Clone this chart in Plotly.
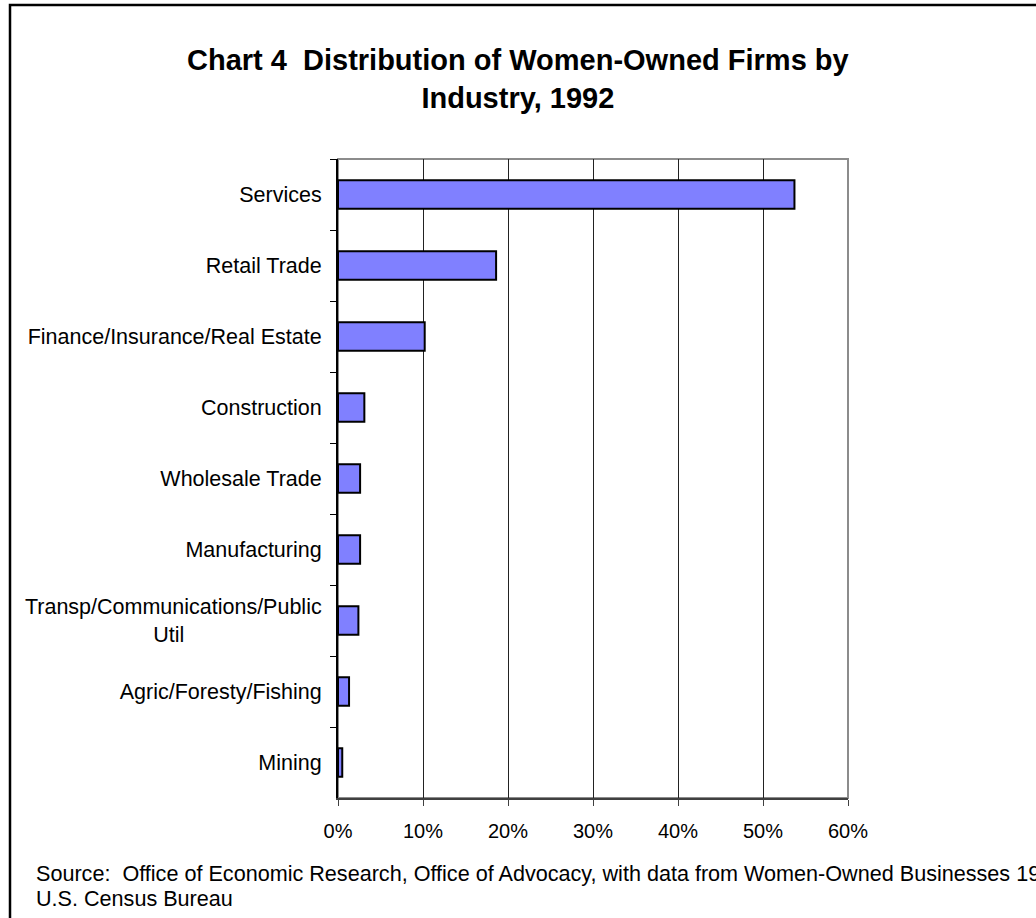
import plotly.graph_objects as go

industries = [
    "Services",
    "Retail Trade",
    "Finance/Insurance/Real Estate",
    "Construction",
    "Wholesale Trade",
    "Manufacturing",
    "Transp/Communications/Public<br>Util" + "\u00a0" * 23,
    "Agric/Foresty/Fishing",
    "Mining",
]
shares = [53.7, 18.6, 10.2, 3.1, 2.6, 2.6, 2.4, 1.3, 0.5]
x_ticks = [0, 10, 20, 30, 40, 50, 60]
x_tick_text = ["0%", "10%", "20%", "30%", "40%", "50%", "60%"]
source_lines = [
    "Source:  Office of Economic Research, Office of Advocacy, with data from Women-Owned Businesses 1992",
    "U.S. Census Bureau",
]

FONT = "Liberation Sans, Arial, sans-serif"

fig = go.Figure()
fig.add_trace(go.Bar(
    x=shares,
    y=industries,
    orientation="h",
    width=0.4,
    marker=dict(color="#8080FF", line=dict(color="#000000", width=2)),
    hoverinfo="x+y",
))

W, H = 1036, 918
L, R, T, B = 338, 188, 159, 120
pw, ph = W - L - R, H - T - B

def px_x(p):
    return (p - L) / pw

def px_y(p):
    return (H - B - p) / ph

annotations = [
    dict(text="<b>Chart 4  Distribution of Women-Owned Firms by<br>Industry, 1992</b>",
         xref="paper", yref="paper", x=px_x(518), y=px_y(79),
         xanchor="center", yanchor="middle", showarrow=False,
         font=dict(size=29, family=FONT, color="black")),
]
for i, line in enumerate(source_lines):
    annotations.append(dict(
        text=line, xref="paper", yref="paper", x=px_x(34), y=px_y(873 + 25 * i),
        xanchor="left", yanchor="middle", align="left", showarrow=False,
        font=dict(size=21.6, family=FONT, color="black")))

fig.update_layout(
    width=W, height=H,
    margin=dict(l=L, r=R, t=T, b=B, pad=0),
    paper_bgcolor="white",
    plot_bgcolor="white",
    showlegend=False,
    font=dict(family=FONT, size=16, color="black"),
    xaxis=dict(
        range=[0, 60],
        tickvals=x_ticks,
        ticktext=x_tick_text,
        showgrid=True,
        gridcolor="#222222",
        gridwidth=1,
        zeroline=False,
        showline=True,
        linecolor="#404040",
        linewidth=2,
        ticks="outside",
        ticklen=6,
        tickcolor="#404040",
        tickwidth=1,
        ticklabelstandoff=8,
        tickfont=dict(size=20, family=FONT),
        fixedrange=True,
    ),
    yaxis=dict(
        autorange="reversed",
        type="category",
        showgrid=False,
        showline=True,
        linecolor="#000000",
        linewidth=2,
        ticks="outside",
        tickson="boundaries",
        ticklen=6,
        tickcolor="#000000",
        tickwidth=1,
        ticklabelstandoff=10,
        tickfont=dict(size=21.5, family=FONT),
        fixedrange=True,
    ),
    shapes=[
        dict(type="rect", xref="paper", yref="paper", x0=0, x1=1, y0=0, y1=1,
             line=dict(color="#8c8c8c", width=2), layer="below"),
        dict(type="rect", xref="paper", yref="paper",
             x0=px_x(10), x1=px_x(1060), y0=px_y(940), y1=px_y(5),
             line=dict(color="#000000", width=2.5), layer="below"),
    ],
    annotations=annotations,
)

fig.write_html("out.html")
